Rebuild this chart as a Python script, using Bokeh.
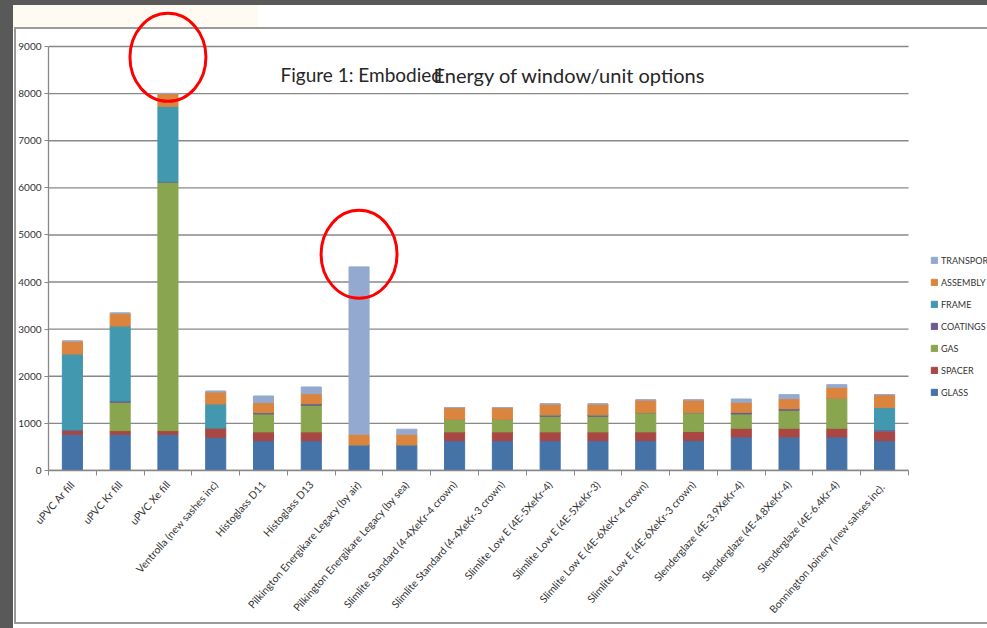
import math
from bokeh.plotting import figure
from bokeh.models import Range1d, FixedTicker, Legend, LegendItem, Label, ColumnDataSource
from bokeh.embed import file_html
from bokeh.resources import INLINE

# ---------------- data ----------------
categories = [
    "uPVC Ar fill",
    "uPVC Kr fill",
    "uPVC Xe fill",
    "Ventrolla (new sashes inc)",
    "Histoglass D11",
    "Histoglass D13",
    "Pilkington Energikare Legacy (by air)",
    "Pilkington Energikare Legacy (by sea)",
    "Slimlite Standard (4-4XeKr-4 crown)",
    "Slimlite Standard (4-4XeKr-3 crown)",
    "Slimlite Low E (4E-5XeKr-4)",
    "Slimlite Low E (4E-5XeKr-3)",
    "Slimlite Low E (4E-6XeKr-4 crown)",
    "Slimlite Low E (4E-6XeKr-3 crown)",
    "Slenderglaze (4E-3.9XeKr-4)",
    "Slenderglaze (4E-4.8XeKr-4)",
    "Slenderglaze (4E-6.4Kr-4)",
    "Bonnington Joinery  (new sahses inc).",
]
components = ["GLASS", "SPACER", "GAS", "COATINGS", "FRAME", "ASSEMBLY", "TRANSPORT"]

glass     = [770, 770, 770, 706, 636, 636, 544, 544, 636, 636, 636, 636, 636, 636, 713, 713, 713, 636]
spacer    = [80, 77, 77, 198, 183, 183, 0, 0, 183, 183, 183, 183, 183, 190, 184, 184, 184, 197]
gas       = [0, 601, 5273, 0, 381, 565, 0, 0, 269, 269, 332, 332, 410, 403, 303, 381, 635, 0]
coatings  = [12, 28, 10, 0, 29, 35, 0, 0, 0, 0, 28, 28, 0, 0, 36, 35, 0, 28]
frame     = [1610, 1589, 1598, 508, 0, 0, 0, 0, 0, 0, 0, 0, 0, 0, 0, 0, 0, 474]
assembly  = [275, 275, 276, 255, 212, 212, 226, 226, 247, 247, 233, 233, 268, 268, 212, 212, 234, 275]
transport = [0, 0, 0, 21, 141, 142, 3552, 106, 0, 0, 0, 0, 0, 0, 70, 85, 56, 0]

y_ticks = [0, 1000, 2000, 3000, 4000, 5000, 6000, 7000, 8000, 9000]

highlight_categories = ["uPVC Xe fill", "Pilkington Energikare Legacy (by air)"]
highlight_values = [8770, 4590]

title_part1 = "Figure 1: Embodied"
title_part2 = "Energy of window/unit options"

colors = ["#4572A7", "#AA4643", "#89A54E", "#71588F", "#4198AF", "#DB843D", "#93A9CF"]

# ---------------- layout constants (pixels) ----------------
W, H = 987, 628
PLOT_LEFT, PLOT_RIGHT, PLOT_TOP, PLOT_BOTTOM = 48, 908, 46, 470
FONT = "Lato"

n = len(categories)
px_per_cat = (PLOT_RIGHT - PLOT_LEFT) / n
px_per_unit = (PLOT_BOTTOM - PLOT_TOP) / y_ticks[-1]
x_end = n - 0.5 + (W - PLOT_RIGHT) / px_per_cat
y_end = y_ticks[-1] + PLOT_TOP / px_per_unit

# ---------------- build ----------------
xs = list(range(n))
src = ColumnDataSource(dict(
    x=xs, GLASS=glass, SPACER=spacer, GAS=gas, COATINGS=coatings,
    FRAME=frame, ASSEMBLY=assembly, TRANSPORT=transport,
))

p = figure(
    width=W, height=H,
    x_range=Range1d(-0.5, x_end),
    y_range=Range1d(0, y_end),
    output_backend="svg", toolbar_location=None,
    min_border_left=PLOT_LEFT, min_border_right=0, min_border_top=0,
    min_border_bottom=H - PLOT_BOTTOM,
)
p.border_fill_color = None
p.background_fill_color = None
p.outline_line_color = None

# page chrome of the screenshot (dark strips, cream band, chart border)
p.styles = {
    "background": (
        "linear-gradient(#595959,#595959) 0px 0px / 987px 5px no-repeat, "
        "linear-gradient(#595959,#595959) 0px 0px / 13px 628px no-repeat, "
        "linear-gradient(#9a9a9a,#9a9a9a) 14px 27px / 973px 2px no-repeat, "
        "linear-gradient(#9a9a9a,#9a9a9a) 14px 27px / 2px 597px no-repeat, "
        "linear-gradient(#9a9a9a,#9a9a9a) 14px 622px / 973px 2px no-repeat, "
        "linear-gradient(#FFFBF2,#FFFBF2) 13px 5px / 245px 22px no-repeat, "
        "#ffffff"
    )
}

# horizontal gridlines, limited to the category area
p.xgrid.visible = False
p.ygrid.visible = False
p.segment(x0=[-0.5] * len(y_ticks), x1=[n - 0.5] * len(y_ticks), y0=y_ticks, y1=y_ticks,
          line_color="#888888", line_width=1.4, level="underlay")

renderers = p.vbar_stack(components, x="x", width=0.42, color=colors, source=src)

# y axis
p.yaxis.ticker = FixedTicker(ticks=y_ticks)
p.yaxis.bounds = (0, y_ticks[-1])
p.yaxis.axis_line_color = "#888888"
p.yaxis.axis_line_width = 1.3
p.yaxis.major_tick_line_color = "#888888"
p.yaxis.major_tick_out = 4
p.yaxis.major_tick_in = 0
p.yaxis.minor_tick_line_color = None
p.yaxis.major_label_text_font = FONT
p.yaxis.major_label_text_font_size = "10px"
p.yaxis.major_label_text_color = "#333333"
p.yaxis.major_label_standoff = 3

# x axis
p.xaxis.ticker = FixedTicker(ticks=xs, minor_ticks=[i - 0.5 for i in range(n + 1)])
p.xaxis.bounds = (-0.5, n - 0.5)
p.xaxis.major_label_overrides = {i: c for i, c in zip(xs, categories)}
p.xaxis.major_label_orientation = 0.85
p.xaxis.axis_line_color = "#888888"
p.xaxis.axis_line_width = 1.3
p.xaxis.major_tick_line_color = None
p.xaxis.minor_tick_line_color = "#888888"
p.xaxis.minor_tick_out = 5
p.xaxis.minor_tick_in = 0
p.xaxis.major_label_text_font = FONT
p.xaxis.major_label_text_font_size = "10.5px"
p.xaxis.major_label_text_color = "#333333"
p.xaxis.major_label_standoff = 6

# legend (inside the frame, right of the bars)
items = [LegendItem(label=c, renderers=[r]) for c, r in zip(components, renderers)][::-1]
legend = Legend(
    items=items, location=(930 - PLOT_LEFT, 72),
    glyph_width=8, glyph_height=8, label_standoff=3, label_height=12,
    spacing=10, padding=0, margin=0,
    border_line_color=None, background_fill_color=None,
    label_text_font=FONT, label_text_font_size="9px", label_text_color="#333333",
)
p.add_layout(legend)

# title (two overlapping pieces, as in the picture)
p.add_layout(Label(x=280 - PLOT_LEFT, y=PLOT_BOTTOM - 74, x_units="screen", y_units="screen",
                   text=title_part1, text_font=FONT, text_font_size="19px",
                   text_color="#262626", text_baseline="alphabetic"))
p.add_layout(Label(x=433 - PLOT_LEFT, y=PLOT_BOTTOM - 74, x_units="screen", y_units="screen",
                   text=title_part2, text_font=FONT, text_font_size="20px",
                   text_color="#262626", text_baseline="alphabetic"))

# red highlight ellipses
hl_x = [categories.index(c) for c in highlight_categories]
p.ellipse(x=hl_x, y=highlight_values, width=76, height=88,
          width_units="screen", height_units="screen",
          fill_color=None, line_color="#FF0000", line_width=3)

open("out.html", "w").write(file_html(p, INLINE))
